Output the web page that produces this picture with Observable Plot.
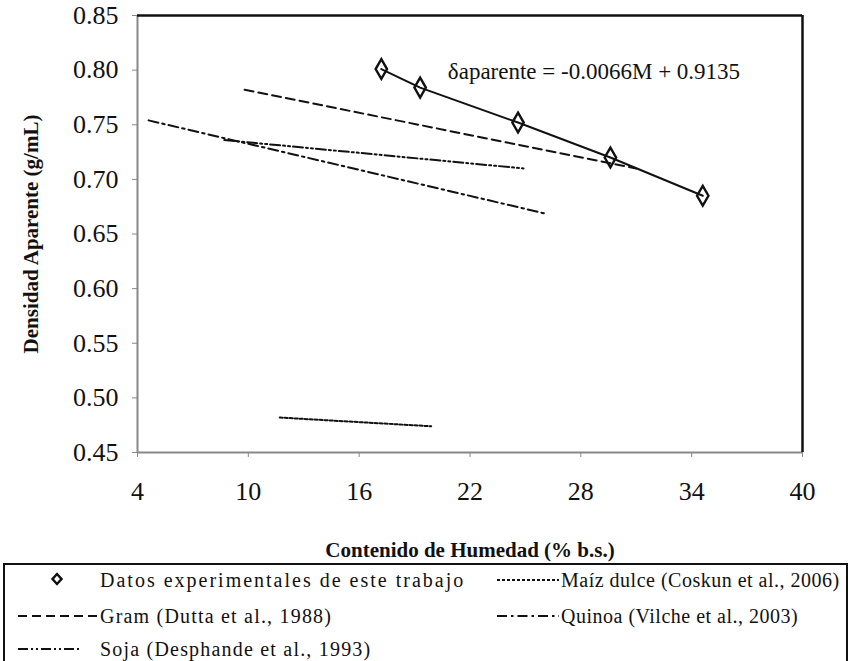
<!DOCTYPE html>
<html>
<head>
<meta charset="utf-8">
<script src="https://cdn.jsdelivr.net/npm/d3@7"></script>
<script src="https://cdn.jsdelivr.net/npm/@observablehq/plot@0.6"></script>
<style>
  body { margin: 0; background: #fff; }
  #wrap { position: relative; width: 851px; height: 661px; overflow: hidden; background: #fff; font-family: 'Liberation Serif', serif; }
  #legend { position: absolute; left: 3px; top: 563px; width: 845px; height: 120px; box-sizing: border-box; border: 2px solid #111; }
  .lg-item { position: absolute; font-size: 20px; color: #111; white-space: nowrap; line-height: 22px; font-family: 'Liberation Serif', serif; }
  .lg-item svg { position: absolute; overflow: visible; }
</style>
</head>
<body>
<div id="wrap"></div>
<script>
// ---- data ----
const seriesNames = [
  "Datos experimentales de este trabajo",
  "Maíz dulce (Coskun et al., 2006)",
  "Gram (Dutta et al., 1988)",
  "Quinoa (Vilche et al., 2003)",
  "Soja (Desphande et al., 1993)"
];
const expM = [17.2, 19.3, 24.6, 29.6, 34.6];
const expD = [0.801, 0.784, 0.752, 0.720, 0.685];
const maizM = [11.7, 19.9];
const maizD = [0.482, 0.474];
const gramM = [9.8, 31.0];
const gramD = [0.782, 0.710];
const quinoaM = [4.6, 26.0];
const quinoaD = [0.754, 0.669];
const sojaM = [8.7, 24.9];
const sojaD = [0.736, 0.710];
const xTicks = [4, 10, 16, 22, 28, 34, 40];
const yTicks = [0.45, 0.50, 0.55, 0.60, 0.65, 0.70, 0.75, 0.80, 0.85];
const xLabel = "Contenido de Humedad (% b.s.)";
const yLabel = "Densidad Aparente (g/mL)";
const eqSymbol = "δ";
const eqSub = "aparente";
const eqRest = " = -0.0066M + 0.9135";
const eqAt = {M: 20.8, d: 0.799};

// ---- build tables ----
const toRows = (ms, ds) => ms.map((m, i) => ({M: m, d: ds[i]}));
const exp = toRows(expM, expD);
const maiz = toRows(maizM, maizD);
const gram = toRows(gramM, gramD);
const quinoa = toRows(quinoaM, quinoaD);
const soja = toRows(sojaM, sojaD);

const serif = "'Liberation Serif', serif";
const dash = {
  gram: "9,5",
  quinoa: "10,4,2.5,4",
  soja: "10,3,2,3,2,3",
  maiz: "3,2"
};

const plot = Plot.plot({
  width: 851,
  height: 560,
  marginLeft: 137,
  marginRight: 49,
  marginTop: 15,
  marginBottom: 108,
  style: {fontFamily: serif, fontSize: "26px", background: "#fff", color: "#111", overflow: "visible"},
  x: {domain: [4, 40]},
  y: {domain: [0.45, 0.85]},
  marks: [
    Plot.axisX({ticks: xTicks, tickSize: 5, tickPadding: 24, stroke: "#888", fill: "#111", fontSize: 26, fontFamily: serif,
      label: xLabel, labelAnchor: "center", labelArrow: "none", labelOffset: 104}),
    Plot.axisY({ticks: yTicks, tickFormat: d3.format(".2f"), tickSize: 5, tickPadding: 14, stroke: "#888", fill: "#111", fontSize: 26, fontFamily: serif,
      label: yLabel, labelAnchor: "center", labelArrow: "none", labelOffset: 114}),
    Plot.ruleX([4], {stroke: "#888", strokeWidth: 2}),
    Plot.ruleY([0.45], {stroke: "#888", strokeWidth: 2}),
    Plot.ruleY([0.85], {stroke: "#111", strokeWidth: 2.5}),
    Plot.ruleX([40], {stroke: "#111", strokeWidth: 2.5}),
    Plot.line(maiz, {x: "M", y: "d", stroke: "#111", strokeWidth: 2, strokeDasharray: dash.maiz}),
    Plot.line(gram, {x: "M", y: "d", stroke: "#111", strokeWidth: 2, strokeDasharray: dash.gram}),
    Plot.line(quinoa, {x: "M", y: "d", stroke: "#111", strokeWidth: 2, strokeDasharray: dash.quinoa}),
    Plot.line(soja, {x: "M", y: "d", stroke: "#111", strokeWidth: 2, strokeDasharray: dash.soja}),
    Plot.line(exp, {x: "M", y: "d", stroke: "#111", strokeWidth: 2}),
    Plot.dot(exp, {x: "M", y: "d", symbol: "diamond", r: 6, stroke: "#111", strokeWidth: 2.4, fill: "none"}),
    Plot.text([eqAt], {x: "M", y: "d", text: () => eqSymbol + eqSub + eqRest, textAnchor: "start", lineAnchor: "middle",
      fontSize: 23, fontFamily: serif, fill: "#111", ariaLabel: "equation"})
  ]
});

const svg = d3.select(plot);
svg.selectAll('[aria-label="x-axis label"], [aria-label="y-axis label"]')
  .attr("font-weight", "bold").attr("font-size", 21);
svg.selectAll('[aria-label="x-axis label"] text, [aria-label="y-axis label"] text')
  .attr("font-weight", "bold").attr("font-size", 21);
const eq = svg.select('[aria-label="equation"] text');
eq.text(null);
eq.append("tspan").attr("font-size", 25).text(eqSymbol);
eq.append("tspan").attr("font-size", 15).attr("dy", 6).text(eqSub);
eq.append("tspan").attr("dy", -6).text(eqRest);

const wrap = document.getElementById("wrap");
wrap.appendChild(plot);

// ---- legend ----
const legend = d3.select(wrap).append("div").attr("id", "legend");
const entries = [
  {name: seriesNames[0], kind: "dot", col: 0, row: 0, ls: 2},
  {name: seriesNames[1], kind: "maiz", col: 1, row: 0, ls: 0.5},
  {name: seriesNames[2], kind: "gram", col: 0, row: 1, ls: 1.2},
  {name: seriesNames[3], kind: "quinoa", col: 1, row: 1, ls: 0.5},
  {name: seriesNames[4], kind: "soja", col: 0, row: 2, ls: 1.2}
];
const colSample = [[13, 92], [492, 554]];
const colText = [95, 556];
const rowY = [15, 51, 84];
entries.forEach(e => {
  const item = legend.append("div").attr("class", "lg-item")
    .style("left", colText[e.col] + "px").style("top", (rowY[e.row] - 11) + "px")
    .style("letter-spacing", e.ls + "px")
    .text(e.name);
  const [sx0, sx1] = colSample[e.col];
  const s = item.append("svg").attr("width", sx1 - sx0).attr("height", 22)
    .style("left", (sx0 - colText[e.col]) + "px").style("top", "0px");
  if (e.kind === "dot") {
    s.append("path").attr("d", "M39,5 L43.5,10 L39,15 L34.5,10 Z").attr("fill", "none").attr("stroke", "#111").attr("stroke-width", 2.5);
  } else {
    const len = e.kind === "soja" ? 62 : sx1 - sx0;
    s.append("line").attr("x1", 0).attr("x2", len).attr("y1", 11).attr("y2", 11)
      .attr("stroke", "#111").attr("stroke-width", 2).attr("stroke-dasharray", dash[e.kind]);
  }
});
</script>
</body>
</html>
